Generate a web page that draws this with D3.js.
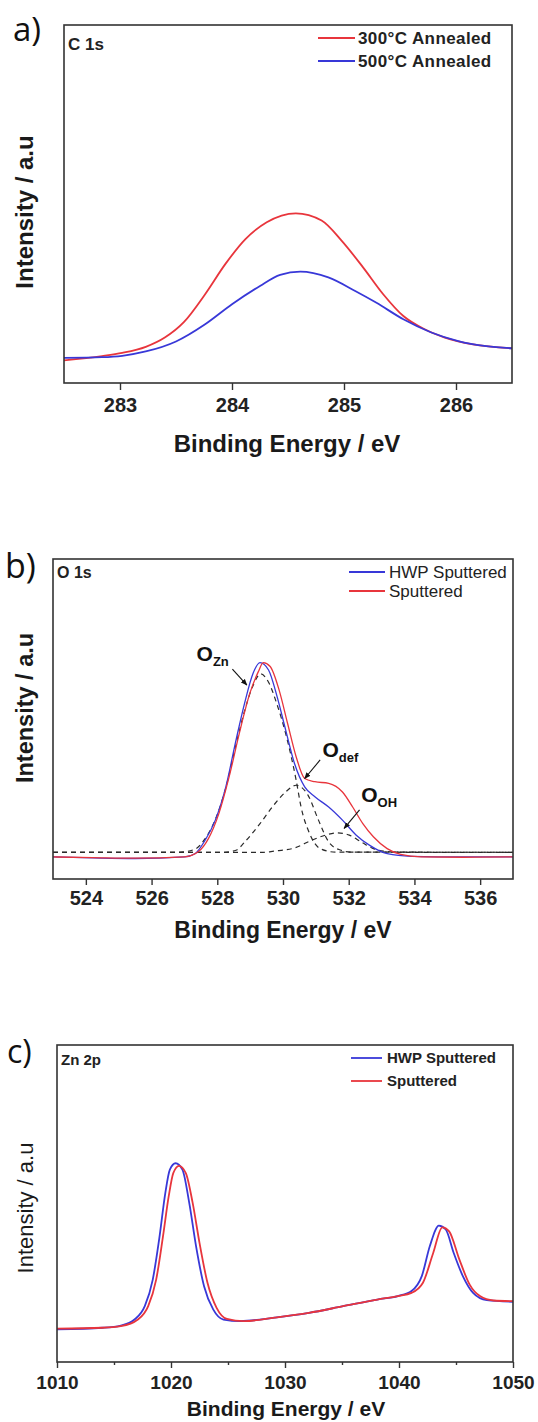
<!DOCTYPE html>
<html>
<head>
<meta charset="utf-8">
<script src="https://cdn.jsdelivr.net/npm/d3@7"></script>
<style>
  body { margin: 0; background: #fff; }
  svg { display: block; font-family: "Liberation Sans", Arial, sans-serif; }
</style>
</head>
<body>
<div id="chart"></div>
<script>
// ---- C 1s ----
const c1sTicks = [283, 284, 285, 286];
const c1s300 = [[282.5, 6.3], [282.84, 7.5], [283.02, 8.4], [283.23, 10.1], [283.4, 12.7], [283.57, 17.0],
  [283.76, 24.8], [283.94, 33.2], [284.12, 40.2], [284.31, 44.9], [284.57, 47.4], [284.8, 45.4],
  [284.98, 39.7], [285.17, 32.3], [285.35, 24.8], [285.53, 18.7], [285.72, 15.0], [285.9, 12.7],
  [286.15, 10.8], [286.5, 9.7]];
const c1s500 = [[282.5, 7.0], [282.84, 7.2], [283.02, 7.6], [283.23, 8.8], [283.5, 11.6], [283.76, 16.4],
  [284.0, 22.0], [284.25, 27.1], [284.43, 30.2], [284.61, 31.1], [284.86, 29.5], [285.1, 25.7],
  [285.29, 22.4], [285.53, 17.8], [285.78, 14.1], [286.02, 11.7], [286.27, 10.3], [286.5, 9.7]];

// ---- O 1s ----
const o1sTicks = [524, 526, 528, 530, 532, 534, 536];
const o1sHwp = [[523.0, 6.9], [524.2, 6.6], [525.5, 6.4], [527.0, 6.9], [527.32, 7.9], [527.63, 12.1],
  [527.94, 18.4], [528.26, 28.8], [528.57, 43.4], [528.83, 54.9], [529.09, 64.3], [529.3, 67.6],
  [529.56, 65.3], [529.82, 57.0], [530.08, 46.6], [530.35, 36.1], [530.66, 28.8], [530.97, 25.7],
  [531.39, 22.5], [531.81, 18.4], [532.23, 13.7], [532.64, 10.5], [533.17, 7.9], [533.9, 7.1],
  [535.5, 6.9], [537.0, 6.9]];
const o1sSput = [[523.0, 6.9], [524.2, 6.7], [525.5, 6.5], [527.0, 6.9], [527.42, 8.5], [527.73, 12.6],
  [528.05, 20.5], [528.36, 31.9], [528.67, 45.5], [528.99, 58.0], [529.25, 64.8], [529.4, 67.6],
  [529.61, 66.4], [529.88, 59.1], [530.14, 48.6], [530.4, 38.2], [530.66, 31.4], [530.97, 30.4],
  [531.39, 29.9], [531.81, 27.2], [532.12, 22.5], [532.43, 17.3], [532.75, 13.2], [533.17, 9.5],
  [533.58, 7.7], [534.21, 6.9], [535.5, 6.8], [537.0, 6.9]];
// fitted components (dashed)
const o1sZn = [[523.0, 8.35], [526.8, 8.35], [527.3, 9.2], [527.63, 12.6], [527.94, 18.6], [528.26, 28.5],
  [528.57, 42.0], [528.83, 52.5], [529.09, 60.5], [529.32, 64.1], [529.56, 61.5], [529.82, 54.5],
  [530.08, 45.5], [530.4, 30.9], [530.55, 22.5], [530.81, 14.2], [531.13, 9.5], [531.6, 8.4], [537.0, 8.35]];
const o1sDef = [[523.0, 8.35], [528.2, 8.35], [528.57, 9.0], [528.88, 12.1], [529.3, 17.3], [529.72, 23.1],
  [530.08, 27.2], [530.4, 29.3], [530.76, 26.2], [531.08, 18.4], [531.39, 11.6], [531.7, 9.2],
  [532.1, 8.4], [537.0, 8.35]];
const o1sOh = [[523.0, 8.35], [529.4, 8.35], [529.72, 8.7], [530.35, 9.7], [530.87, 12.1], [531.29, 13.7],
  [531.65, 14.4], [532.02, 13.7], [532.38, 11.6], [532.75, 9.5], [533.17, 8.6], [533.6, 8.35], [537.0, 8.35]];

// ---- Zn 2p ----
const zn2pTicks = [1010, 1020, 1030, 1040, 1050];
const zn2pMinor = [1015, 1025, 1035, 1045];
const zn2pHwp = [[1010.0, 10.3], [1014.0, 10.8], [1015.6, 11.5], [1016.8, 13.4], [1017.7, 17.6], [1018.4, 26.0],
  [1019.0, 39.7], [1019.5, 53.3], [1019.9, 60.7], [1020.4, 62.7], [1021.0, 60.7], [1021.6, 50.2],
  [1022.2, 36.5], [1022.9, 23.9], [1023.7, 16.6], [1024.6, 13.4], [1026.1, 12.9], [1029.1, 14.0],
  [1032.1, 15.5], [1035.1, 17.6], [1038.1, 19.7], [1039.9, 20.8], [1041.1, 22.4], [1042.0, 27.1],
  [1042.7, 36.5], [1043.5, 43.0], [1044.1, 41.8], [1044.8, 34.4], [1045.6, 27.1], [1046.5, 21.8],
  [1047.7, 19.5], [1050.0, 19.0]];
const zn2pSput = [[1010.0, 10.5], [1014.0, 10.8], [1015.6, 11.3], [1017.1, 13.4], [1018.0, 17.6], [1018.7, 26.0],
  [1019.3, 39.7], [1019.8, 52.3], [1020.2, 59.6], [1020.7, 61.9], [1021.3, 59.6], [1021.9, 50.2],
  [1022.5, 37.6], [1023.2, 25.0], [1024.0, 17.1], [1024.9, 13.6], [1026.4, 12.9], [1029.1, 14.0],
  [1032.1, 15.5], [1035.1, 17.6], [1038.1, 19.7], [1039.9, 20.8], [1041.1, 21.8], [1042.1, 25.0],
  [1043.0, 34.4], [1043.8, 42.5], [1044.4, 41.2], [1045.3, 32.3], [1046.2, 24.4], [1047.1, 20.8],
  [1048.3, 19.4], [1050.0, 19.2]];

// annotations for O 1s, in data units: [label, sub, labelX, labelY, arrow from, arrow to]
const o1sNotes = [
  ['O', 'Zn', 527.37, 68.1, [528.46, 65.6], [528.9, 60.6]],
  ['O', 'def', 531.2, 38.1, [531.13, 37.2], [530.66, 31.4]],
  ['O', 'OH', 532.38, 24.1, [532.33, 21.6], [531.86, 15.8]]
];

const red = '#e8353c';
const blue = '#3838d8';
const W = 538, H = 1422;

const svg = d3.select('#chart').append('svg').attr('width', W).attr('height', H);

svg.append('defs').append('marker')
  .attr('id', 'arrow')
  .attr('viewBox', '0 0 10 10')
  .attr('refX', 9).attr('refY', 5)
  .attr('markerWidth', 6).attr('markerHeight', 6)
  .attr('orient', 'auto')
  .append('path').attr('d', 'M0,1 L10,5 L0,9 Z').attr('fill', '#111');

const panels = [
  {
    id: 'a', letter: 'a)', letterPos: [13, 41], letterSize: 33,
    title: 'C 1s', titleSize: 17, titleY: 50,
    box: {x0: 64, x1: 512, y0: 25, y1: 383},
    domain: [282.5, 286.5], ticks: c1sTicks, tickSize: 7, tickPad: 8, tickFont: 20,
    series: [{data: c1s300, color: red, label: '300°C Annealed'}, {data: c1s500, color: blue, label: '500°C Annealed'}],
    lineWidth: 1.8,
    legend: {x0: 318, x1: 355, y: [38, 61], tx: 358, size: 17, weight: 'bold', spacing: 0.4},
    ylab: {x: 33, y: 212, size: 24, weight: 'bold'},
    xlab: {x: 287, y: 452, size: 24}
  },
  {
    id: 'b', letter: 'b)', letterPos: [5, 578], letterSize: 34,
    title: 'O 1s', titleSize: 16, titleY: 578,
    box: {x0: 53, x1: 513, y0: 559, y1: 879},
    domain: [523, 537], ticks: o1sTicks, tickSize: 6, tickPad: 6, tickFont: 20,
    series: [{data: o1sHwp, color: blue, label: 'HWP Sputtered'}, {data: o1sSput, color: red, label: 'Sputtered'}],
    components: [o1sZn, o1sDef, o1sOh],
    notes: o1sNotes,
    lineWidth: 1.3,
    legend: {x0: 349, x1: 385, y: [572, 591], tx: 389, size: 17, weight: 'normal', spacing: 0},
    ylab: {x: 33, y: 708, size: 23.5, weight: 'bold'},
    xlab: {x: 283, y: 938, size: 23}
  },
  {
    id: 'c', letter: 'c)', letterPos: [7, 1063], letterSize: 32,
    title: 'Zn 2p', titleSize: 15, titleY: 1065,
    box: {x0: 57, x1: 513, y0: 1045, y1: 1362},
    domain: [1010, 1050], ticks: zn2pTicks, minor: zn2pMinor, tickSize: 6, tickPad: 7.5, tickFont: 19,
    series: [{data: zn2pHwp, color: blue, label: 'HWP Sputtered'}, {data: zn2pSput, color: red, label: 'Sputtered'}],
    lineWidth: 1.8,
    legend: {x0: 351, x1: 382, y: [1058, 1081], tx: 387, size: 15, weight: 'bold', spacing: 0},
    ylab: {x: 33, y: 1208, size: 22, weight: 'normal'},
    xlab: {x: 286, y: 1416, size: 21}
  }
];

panels.forEach(drawPanel);

function drawPanel(p) {
  const b = p.box;
  const x = d3.scaleLinear().domain(p.domain).range([b.x0, b.x1]);
  const y = d3.scaleLinear().domain([0, 100]).range([b.y1, b.y0]);
  const g = svg.append('g');

  g.append('clipPath').attr('id', 'clip-' + p.id)
    .append('rect').attr('x', b.x0).attr('y', b.y0).attr('width', b.x1 - b.x0).attr('height', b.y1 - b.y0);

  const line = d3.line()
    .x(d => x(d[0]))
    .y(d => y(d[1]))
    .curve(d3.curveMonotoneX);

  const plot = g.append('g').attr('clip-path', `url(#clip-${p.id})`);

  if (p.components) {
    plot.selectAll('path.comp')
      .data(p.components)
      .join('path')
      .attr('class', 'comp')
      .attr('d', line)
      .attr('fill', 'none')
      .attr('stroke', '#2a2a2a')
      .attr('stroke-width', 1.2)
      .attr('stroke-dasharray', '5,4');
  }

  plot.selectAll('path.series')
    .data(p.series)
    .join('path')
    .attr('class', 'series')
    .attr('d', d => line(d.data))
    .attr('fill', 'none')
    .attr('stroke', d => d.color)
    .attr('stroke-width', p.lineWidth);

  // bottom axis
  const ax = g.append('g')
    .attr('transform', `translate(0,${b.y1})`)
    .call(d3.axisBottom(x).tickValues(p.ticks).tickSize(p.tickSize).tickPadding(p.tickPad).tickFormat(d3.format('d')));
  ax.select('.domain').remove();
  ax.selectAll('line').attr('stroke', '#333').attr('stroke-width', 1.4);
  ax.selectAll('text')
    .attr('fill', '#222')
    .style('font-size', p.tickFont + 'px')
    .style('font-weight', 'bold')
    .style('font-family', '"Liberation Sans", Arial, sans-serif');

  if (p.minor) {
    const mx = g.append('g')
      .attr('transform', `translate(0,${b.y1})`)
      .call(d3.axisBottom(x).tickValues(p.minor).tickSize(3).tickFormat(''));
    mx.select('.domain').remove();
    mx.selectAll('line').attr('stroke', '#333').attr('stroke-width', 1.4);
  }

  // frame
  g.append('rect')
    .attr('x', b.x0).attr('y', b.y0)
    .attr('width', b.x1 - b.x0).attr('height', b.y1 - b.y0)
    .attr('fill', 'none')
    .attr('stroke', '#333')
    .attr('stroke-width', 1.6);

  // panel letter
  g.append('text')
    .attr('x', p.letterPos[0]).attr('y', p.letterPos[1])
    .style('font-family', '"Open Sans", "Noto Sans", sans-serif')
    .style('font-size', p.letterSize + 'px')
    .attr('fill', '#111')
    .text(p.letter);

  // title inside frame
  g.append('text')
    .attr('x', b.x0 + 4).attr('y', p.titleY)
    .style('font-size', p.titleSize + 'px')
    .style('font-weight', 'bold')
    .attr('fill', '#222')
    .text(p.title);

  // legend
  const lg = p.legend;
  const items = g.selectAll('g.leg').data(p.series).join('g').attr('class', 'leg');
  items.append('line')
    .attr('x1', lg.x0).attr('x2', lg.x1)
    .attr('y1', (d, i) => lg.y[i]).attr('y2', (d, i) => lg.y[i])
    .attr('stroke', d => d.color)
    .attr('stroke-width', 1.8);
  items.append('text')
    .attr('x', lg.tx)
    .attr('y', (d, i) => lg.y[i])
    .attr('dy', '0.36em')
    .style('font-size', lg.size + 'px')
    .style('font-weight', lg.weight)
    .style('letter-spacing', lg.spacing + 'px')
    .attr('fill', '#222')
    .text(d => d.label);

  // axis titles
  g.append('text')
    .attr('transform', `translate(${p.ylab.x},${p.ylab.y}) rotate(-90)`)
    .attr('text-anchor', 'middle')
    .style('font-size', p.ylab.size + 'px')
    .style('font-weight', p.ylab.weight)
    .attr('fill', '#1a1a1a')
    .text('Intensity / a.u');

  g.append('text')
    .attr('x', p.xlab.x).attr('y', p.xlab.y)
    .attr('text-anchor', 'middle')
    .style('font-size', p.xlab.size + 'px')
    .style('font-weight', 'bold')
    .attr('fill', '#1a1a1a')
    .text('Binding Energy / eV');

  // peak annotations
  if (p.notes) {
    p.notes.forEach(n => {
      const t = g.append('text')
        .attr('x', x(n[2])).attr('y', y(n[3]))
        .style('font-size', '21px')
        .style('font-weight', 'bold')
        .attr('fill', '#111');
      t.append('tspan').text(n[0]);
      t.append('tspan').attr('dy', 5).style('font-size', '13px').text(n[1]);
      g.append('line')
        .attr('x1', x(n[4][0])).attr('y1', y(n[4][1]))
        .attr('x2', x(n[5][0])).attr('y2', y(n[5][1]))
        .attr('stroke', '#111')
        .attr('stroke-width', 1.1)
        .attr('marker-end', 'url(#arrow)');
    });
  }
}
</script>
</body>
</html>
